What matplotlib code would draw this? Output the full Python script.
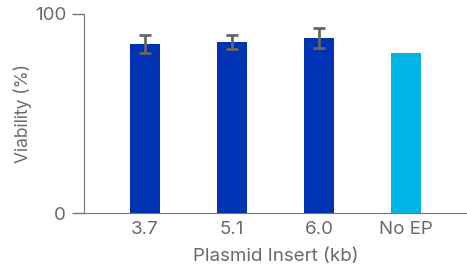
import matplotlib.pyplot as plt
import numpy as np

plt.rcParams['font.family'] = ['Inter', 'DejaVu Sans']

categories = ["3.7", "5.1", "6.0", "No EP"]
viability = [85, 86, 88, 80.5]
err = [4.6, 3.6, 5.0, 0]
colors = ["#0033B3", "#0033B3", "#0033B3", "#00B4E4"]

fig = plt.figure(figsize=(4.67, 2.69), dpi=100)
ax = fig.add_axes([0.18, 0.208, 0.82, 0.74])

x = np.arange(len(categories))
ax.bar(x, viability, width=0.345, color=colors)
ax.errorbar(x[:3], viability[:3], yerr=err[:3], fmt="none", ecolor="#666666",
            elinewidth=2, capsize=4, capthick=2)

grey = "#777777"
txt = "#6a6a6a"
ax.set_xlim(-0.7, 3.7)
ax.set_ylim(0, 100)
ax.set_yticks([0, 100])
ax.set_xticks(x)
ax.set_xticklabels(categories)
ax.tick_params(axis="x", length=0, pad=6, labelsize=13.5, labelcolor=txt)
ax.tick_params(axis="y", length=9, width=1, color=grey, pad=4, labelsize=13.5,
               labelcolor=txt)
for s in ["top", "right"]:
    ax.spines[s].set_visible(False)
for s in ["left", "bottom"]:
    ax.spines[s].set_color(grey)
ax.set_xlabel("Plasmid Insert (kb)", fontsize=13.5, color=txt, labelpad=7)
ax.set_ylabel("Viability (%)", fontsize=12.5, color=txt)
ax.yaxis.set_label_coords(-0.137, 0.5)

fig.savefig("out.png", dpi=100)
